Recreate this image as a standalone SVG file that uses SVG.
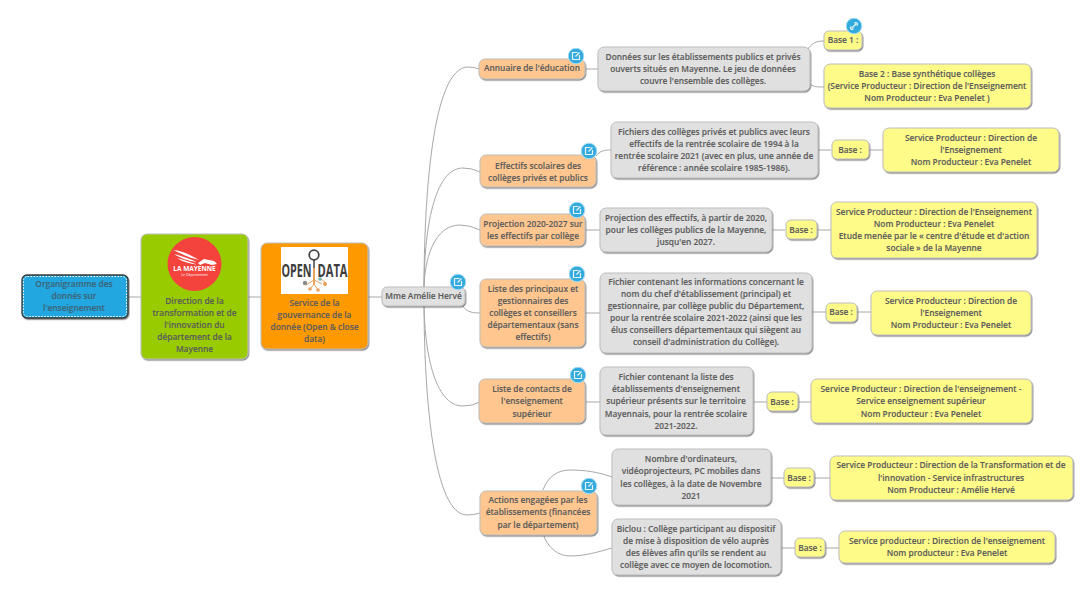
<svg xmlns="http://www.w3.org/2000/svg" width="1085" height="605" viewBox="0 0 1085 605">
<style>
text{font-family:"Open Sans","Noto Sans","DejaVu Sans",sans-serif;font-size:8.35px;font-weight:600;fill:#5c5c5c;text-anchor:middle;stroke:#5c5c5c;stroke-width:.12}
.n{stroke:#bdbdbd;stroke-width:1;filter:url(#s)}
.o{fill:#ffc78f}.g{fill:#e0e0e0}.y{fill:#fffb88}
#links path{fill:none;stroke:#a8a8a8;stroke-width:1}
.b{fill:#33aade;stroke:#a5dcf2;stroke-width:1}
.i{fill:none;stroke:#e4f5fc;stroke-width:1.200}
.w{fill:#fff;stroke:none}
.k{fill:#3d3d3d;stroke:none;font-size:18px;font-weight:700}
.t{fill:#3f6478;stroke:#3f6478}
</style>
<defs>
<filter id="s" x="-10%" y="-10%" width="120%" height="125%"><feDropShadow dx="0.8" dy="1.2" stdDeviation="0.7" flood-color="#555" flood-opacity=".7"/></filter>
<g id="note"><circle r="7.8" class="b"/><path class="i" d="M1.500 -3.500H-3.500V3.500H3.500V-1M-0.500 0.500L3.500 -3.500"/></g>
</defs>
<g id="links">
<path d="M128 297H142M248 297H262M367 297H382"/>
<path d="M424 290C424 200 432 67 468 67Q474 67 479 69"/>
<path d="M424 290C424 230 434 168 463 168Q472 168 480 172"/>
<path d="M424 290C424 260 434 225 460 225Q470 225 480 230"/>
<path d="M462 305C466 311 470 313 480 313"/>
<path d="M424 300C424 350 434 406 463 406Q472 406 480 402"/>
<path d="M424 300C424 400 434 515 467 515Q474 515 480 513"/>
<path d="M586 69H598M596 156C600 151 604 150 611 150M584 230H600M585 313H600M586 402H600"/>
<path d="M543 490C548 476 558 470 570 470C585 470 598 472 612 477M543 534C548 548 558 556 570 556C585 556 598 552 612 548"/>
<path d="M808 49C812 43 816 41 824 41M810 84C814 87 817 87 824 87"/>
<path d="M818 150H831M868 150H883M772 230H785M816 230H831M812 312H826M856 312H871M753 402H768M797 402H811M771 478H784M814 478H830M781 548H795M825 548H839"/>
</g>
<g id="n0"><rect x="22" y="275" width="106" height="43" rx="5" fill="#22a7e0" stroke="#3a3a3a" stroke-width="1.300" filter="url(#s)"/><rect x="23.500" y="276.500" width="103" height="40" rx="4" fill="none" stroke="#fff" stroke-width="1" stroke-dasharray="1.500 1.500"/><text class="t" x="74" y="287">Organigramme des</text><text class="t" x="74" y="299">donnés sur</text><text class="t" x="74" y="311">l'enseignement</text></g>
<g id="n1"><rect class="n" x="141" y="234" width="107" height="125" rx="6" fill="#99cc00"/><circle cx="194.500" cy="264" r="27" fill="#f4433c"/><path d="M173 250C184 251 192 256 199 260C190 258 181 254 173 250ZM174 254C183 256 190 259 197 262C188 261 180 258 174 254ZM177 258C184 260 190 262 197 264.500C190 264 183 262 177 258ZM198 263L204 259L214 261L217 264L212 265L205 263L200 265Z" fill="#fff"/><text class="w" x="194.500" y="271" style="font-size:6.500px;font-weight:700">LA MAYENNE</text><text class="w" x="194.500" y="275.500" style="font-size:3.500px;font-weight:400">Le Département</text><text x="194.500" y="304">Direction de la</text><text x="194.500" y="316">transformation et de</text><text x="194.500" y="328">l'innovation du</text><text x="194.500" y="340">département de la</text><text x="194.500" y="352">Mayenne</text></g>
<g id="n2"><rect class="n" x="261" y="243" width="107" height="106" rx="6" fill="#ff9900"/><rect x="281" y="247" width="67" height="47" fill="#fff"/><circle cx="314" cy="255" r="4.800" fill="none" stroke="#444" stroke-width="1.800"/><path d="M314 260V270" stroke="#444" stroke-width="1.500"/><path d="M314 268V284" stroke="#e8a05a" stroke-width="2"/><path d="M306 285L314 280L322 284M310 289L314 284L318 290M320 278L326 283" stroke="#e8a05a" stroke-width="1" fill="none"/><text class="k" transform="translate(296.500 277) scale(.6 1)">OPEN</text><text class="k" transform="translate(332.500 277) scale(.62 1)">DATA</text><circle cx="305" cy="283" r="2.200" fill="#8a8a8a"/><circle cx="310" cy="289" r="1.800" fill="#e8a05a"/><circle cx="320" cy="279" r="1.800" fill="#6fb7ae"/><circle cx="325" cy="284" r="2" fill="#e8a05a"/><circle cx="318" cy="290" r="1.800" fill="#e8a05a"/><text x="314.500" y="306">Service de la</text><text x="314.500" y="318">gouvernance de la</text><text x="314.500" y="330">donnée (Open &amp; close</text><text x="314.500" y="342">data)</text></g>
<g id="n3"><rect class="n g" x="382" y="287" width="83" height="19" rx="5"/><text x="423.500" y="299">Mme Amélie Hervé</text><use href="#note" x="458" y="282"/></g>
<g id="n4"><rect class="n o" x="479" y="59" width="106" height="20" rx="6"/><text x="532" y="71">Annuaire de l'éducation</text><use href="#note" x="576" y="56"/></g>
<g id="n5"><rect class="n g" x="598" y="47" width="212" height="44" rx="6"/><text x="703" y="60">Données sur les établissements publics et privés</text><text x="703" y="72">ouverts situés en Mayenne. Le jeu de données</text><text x="703" y="84">couvre l'ensemble des collèges.</text></g>
<g id="n6"><rect class="n y" x="824" y="31" width="38" height="19" rx="5"/><text x="843" y="43">Base 1 :</text><circle cx="854" cy="26" r="7.800" class="b"/><path class="i" d="M852 28L856 24"/><path class="i" d="M851.500 26.500L850.500 27.500A1.800 1.800 0 0 0 852.500 29.500L853.500 28.500M854.500 23.500L855.500 22.500A1.800 1.800 0 0 1 857.500 24.500L856.500 25.500"/></g>
<g id="n7"><rect class="n y" x="824" y="64" width="207" height="44" rx="6"/><text x="927" y="77">Base 2 : Base synthétique collèges</text><text x="927" y="89">(Service Producteur : Direction de l'Enseignement</text><text x="927" y="101">Nom Producteur : Eva Penelet )</text></g>
<g id="n8"><rect class="n o" x="480" y="155" width="116" height="32" rx="6"/><text x="538" y="169">Effectifs scolaires des</text><text x="538" y="181">collèges privés et publics</text><use href="#note" x="589" y="151"/></g>
<g id="n9"><rect class="n g" x="611" y="122" width="207" height="56" rx="6"/><text x="714" y="135">Fichiers des collèges privés et publics avec leurs</text><text x="714" y="147">effectifs de la rentrée scolaire de 1994 à la</text><text x="714" y="159">rentrée scolaire 2021 (avec en plus, une année de</text><text x="714" y="171">référence : année scolaire 1985-1986).</text></g>
<g id="n10"><rect class="n y" x="832" y="140" width="37" height="19" rx="5"/><text x="850" y="153">Base :</text></g>
<g id="n11"><rect class="n y" x="883" y="128" width="176" height="44" rx="6"/><text x="971" y="141">Service Producteur : Direction de</text><text x="971" y="153">l'Enseignement</text><text x="971" y="165">Nom Producteur : Eva Penelet</text></g>
<g id="n12"><rect class="n o" x="480" y="214" width="105" height="32" rx="6"/><text x="533" y="227">Projection 2020-2027 sur</text><text x="533" y="239">les effectifs par collège</text><use href="#note" x="577" y="210"/></g>
<g id="n13"><rect class="n g" x="600" y="208" width="172" height="44" rx="6"/><text x="686" y="221">Projection des effectifs, à partir de 2020,</text><text x="686" y="233">pour les collèges publics de la Mayenne,</text><text x="686" y="245">jusqu'en 2027.</text></g>
<g id="n14"><rect class="n y" x="786" y="220" width="31" height="19" rx="5"/><text x="801" y="233">Base :</text></g>
<g id="n15"><rect class="n y" x="831" y="202" width="206" height="56" rx="6"/><text x="934" y="215">Service Producteur : Direction de l'Enseignement</text><text x="934" y="227">Nom Producteur : Eva Penelet</text><text x="934" y="239">Etude menée par le « centre d'étude et d'action</text><text x="934" y="251">sociale » de la Mayenne</text></g>
<g id="n16"><rect class="n o" x="480" y="279" width="105" height="68" rx="6"/><text x="533" y="292">Liste des principaux et</text><text x="533" y="304">gestionnaires des</text><text x="533" y="316">collèges et conseillers</text><text x="533" y="328">départementaux (sans</text><text x="533" y="340">effectifs)</text><use href="#note" x="577" y="274"/></g>
<g id="n17"><rect class="n g" x="600" y="273" width="212" height="80" rx="6"/><text x="706" y="285">Fichier contenant les informations concernant le</text><text x="706" y="297">nom du chef d'établissement (principal) et</text><text x="706" y="309">gestionnaire, par collège public du Département,</text><text x="706" y="321">pour la rentrée scolaire 2021-2022 (ainsi que les</text><text x="706" y="333">élus conseillers départementaux qui siègent au</text><text x="706" y="345">conseil d'administration du Collège).</text></g>
<g id="n18"><rect class="n y" x="826" y="303" width="31" height="19" rx="5"/><text x="841" y="315">Base :</text></g>
<g id="n19"><rect class="n y" x="871" y="291" width="160" height="44" rx="6"/><text x="951" y="304">Service Producteur : Direction de</text><text x="951" y="316">l'Enseignement</text><text x="951" y="328">Nom Producteur : Eva Penelet</text></g>
<g id="n20"><rect class="n o" x="479" y="379" width="106" height="44" rx="6"/><text x="532" y="392">Liste de contacts de</text><text x="532" y="404">l'enseignement</text><text x="532" y="417">supérieur</text><use href="#note" x="578" y="375"/></g>
<g id="n21"><rect class="n g" x="600" y="367" width="153" height="68" rx="6"/><text x="676" y="380">Fichier contenant la liste des</text><text x="676" y="392">établissements d'enseignement</text><text x="676" y="404">supérieur présents sur le territoire</text><text x="676" y="417">Mayennais, pour la rentrée scolaire</text><text x="676" y="429">2021-2022.</text></g>
<g id="n22"><rect class="n y" x="767" y="392" width="31" height="19" rx="5"/><text x="782" y="405">Base :</text></g>
<g id="n23"><rect class="n y" x="811" y="379" width="221" height="44" rx="6"/><text x="921" y="392">Service Producteur : Direction de l'enseignement -</text><text x="921" y="404">Service enseignement supérieur</text><text x="921" y="417">Nom Producteur : Eva Penelet</text></g>
<g id="n24"><rect class="n o" x="480" y="491" width="117" height="44" rx="6"/><text x="538" y="503">Actions engagées par les</text><text x="538" y="515">établissements (financées</text><text x="538" y="528">par le département)</text><use href="#note" x="589" y="486"/></g>
<g id="n25"><rect class="n g" x="612" y="449" width="159" height="56" rx="6"/><text x="691" y="462">Nombre d'ordinateurs,</text><text x="691" y="474">vidéoprojecteurs, PC mobiles dans</text><text x="691" y="487">les collèges, à la date de Novembre</text><text x="691" y="499">2021</text></g>
<g id="n26"><rect class="n y" x="784" y="468" width="30" height="19" rx="5"/><text x="799" y="481">Base :</text></g>
<g id="n27"><rect class="n y" x="830" y="456" width="243" height="44" rx="6"/><text x="951" y="468">Service Producteur : Direction de la Transformation et de</text><text x="951" y="481">l'innovation - Service infrastructures</text><text x="951" y="493">Nom Producteur : Amélie Hervé</text></g>
<g id="n28"><rect class="n g" x="612" y="519" width="169" height="56" rx="6"/><text x="696" y="532">Biclou : Collège participant au dispositif</text><text x="696" y="544">de mise à disposition de vélo auprès</text><text x="696" y="556">des élèves afin qu'ils se rendent au</text><text x="696" y="568">collège avec ce moyen de locomotion.</text></g>
<g id="n29"><rect class="n y" x="795" y="538" width="30" height="19" rx="5"/><text x="810" y="551">Base :</text></g>
<g id="n30"><rect class="n y" x="839" y="531" width="216" height="32" rx="6"/><text x="947" y="544">Service producteur : Direction de l'enseignement</text><text x="947" y="556">Nom producteur : Eva Penelet</text></g>
</svg>
